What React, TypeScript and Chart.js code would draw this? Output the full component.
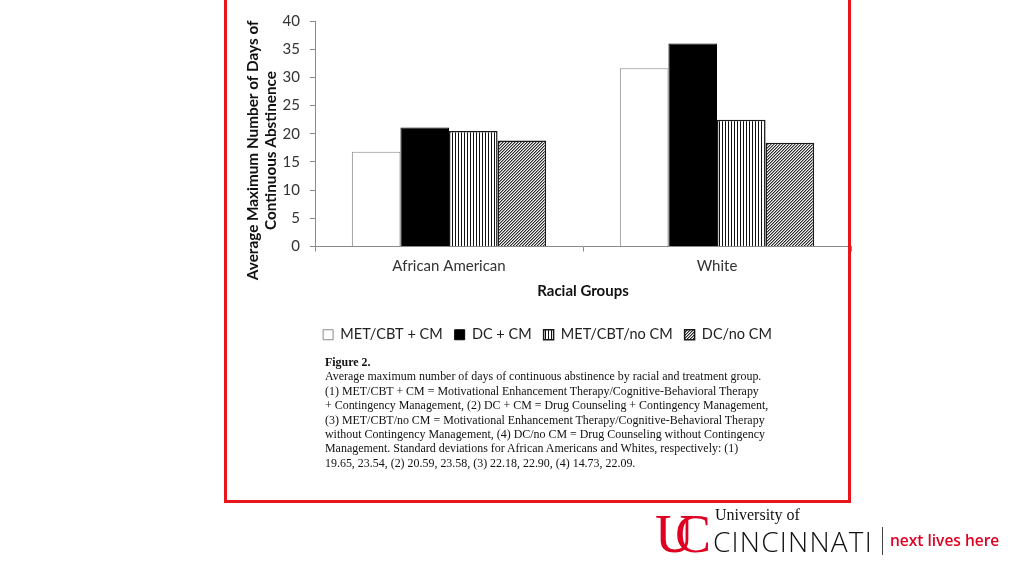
import React, { useEffect, useRef } from "react";
import { Chart, registerables } from "chart.js";

Chart.register(...registerables);

const categories = ["African American", "White"];
const seriesNames = ["MET/CBT + CM", "DC + CM", "MET/CBT/no CM", "DC/no CM"];
const metCbtCm = [16.8, 31.6];
const dcCm = [21.1, 36.0];
const metCbtNoCm = [20.5, 22.5];
const dcNoCm = [18.8, 18.4];
const yMin = 0;
const yMax = 40;
const yStep = 5;
const titlePad = "\u00A0".repeat(9);
const yTitle = ["Average Maximum Number of Days of" + titlePad, "Continuous Abstinence" + titlePad];
const xTitle = "Racial Groups";

const captionTitle = "Figure 2.";
const captionLines = [
  "Average maximum number of days of continuous abstinence by racial and treatment group.",
  "(1) MET/CBT + CM = Motivational Enhancement Therapy/Cognitive-Behavioral Therapy",
  "+ Contingency Management, (2) DC + CM = Drug Counseling + Contingency Management,",
  "(3) MET/CBT/no CM = Motivational Enhancement Therapy/Cognitive-Behavioral Therapy",
  "without Contingency Management, (4) DC/no CM = Drug Counseling without Contingency",
  "Management. Standard deviations for African Americans and Whites, respectively: (1)",
  "19.65, 23.54, (2) 20.59, 23.58, (3) 22.18, 22.90, (4) 14.73, 22.09.",
];

function stripePattern(ctx: CanvasRenderingContext2D) {
  const c = document.createElement("canvas");
  c.width = 3;
  c.height = 3;
  const g = c.getContext("2d")!;
  g.fillStyle = "#ffffff";
  g.fillRect(0, 0, 3, 3);
  g.fillStyle = "#111111";
  g.fillRect(0, 0, 1, 3);
  return ctx.createPattern(c, "repeat")!;
}

function hatchPattern(ctx: CanvasRenderingContext2D) {
  const c = document.createElement("canvas");
  c.width = 3;
  c.height = 3;
  const g = c.getContext("2d")!;
  for (let x = 0; x < 3; x++) {
    for (let y = 0; y < 3; y++) {
      const m = (x + y) % 3;
      g.fillStyle = m === 0 ? "#2a2a2a" : m === 1 ? "#9a9a9a" : "#f4f4f4";
      g.fillRect(x, y, 1, 1);
    }
  }
  return ctx.createPattern(c, "repeat")!;
}

function BarChart() {
  const ref = useRef<HTMLCanvasElement | null>(null);
  useEffect(() => {
    const canvas = ref.current!;
    const ctx = canvas.getContext("2d")!;
    const font = "Lato";
    const chart = new Chart(ctx, {
      type: "bar",
      data: {
        labels: categories,
        datasets: [
          {
            label: seriesNames[0],
            data: metCbtCm,
            backgroundColor: "#ffffff",
            borderColor: "#8a8a8a",
            borderWidth: 1,
          },
          {
            label: seriesNames[1],
            data: dcCm,
            backgroundColor: "#000000",
            borderColor: "#000000",
            borderWidth: 1,
          },
          {
            label: seriesNames[2],
            data: metCbtNoCm,
            backgroundColor: stripePattern(ctx),
            borderColor: "#1a1a1a",
            borderWidth: 1.5,
          },
          {
            label: seriesNames[3],
            data: dcNoCm,
            backgroundColor: hatchPattern(ctx),
            borderColor: "#1a1a1a",
            borderWidth: 1.5,
          },
        ],
      },
      options: {
        animation: false,
        responsive: false,
        maintainAspectRatio: false,
        datasets: {
          bar: { categoryPercentage: 0.725, barPercentage: 1 },
        },
        layout: { padding: { top: 21, right: 2, left: 14, bottom: 0 } },
        plugins: {
          tooltip: { enabled: false },
          legend: {
            position: "bottom",
            labels: {
              boxWidth: 10,
              boxHeight: 10,
              padding: 12,
              color: "#222222",
              font: { family: font, size: 14.5 },
            },
          },
        },
        scales: {
          x: {
            border: { color: "#8a8a8a", width: 1 },
            grid: {
              offset: true,
              drawOnChartArea: false,
              drawTicks: true,
              tickLength: 5,
              color: "#8a8a8a",
            },
            ticks: {
              color: "#333333",
              padding: 6,
              font: { family: font, size: 15 },
            },
            title: {
              display: true,
              text: xTitle,
              color: "#111111",
              font: { family: font, size: 15, weight: "bold" },
              padding: { top: 1, bottom: 15 },
            },
          },
          y: {
            min: yMin,
            max: yMax,
            border: { color: "#8a8a8a", width: 1 },
            grid: {
              drawOnChartArea: false,
              drawTicks: true,
              tickLength: 5,
              color: "#8a8a8a",
            },
            ticks: {
              stepSize: yStep,
              color: "#333333",
              padding: 10,
              font: { family: font, size: 15 },
            },
            title: {
              display: true,
              text: yTitle,
              color: "#111111",
              font: { family: font, size: 15.3, weight: "bold" },
              padding: { top: 0, bottom: 2 },
            },
            afterFit: (scale: any) => {
              scale.width = 71;
            },
          },
        },
      },
    });
    return () => chart.destroy();
  }, []);
  return (
    <canvas
      ref={ref}
      width={623}
      height={352}
      style={{ position: "absolute", left: 230, top: 0, width: 623, height: 352 }}
    />
  );
}

export default function App() {
  return (
    <div
      style={{
        position: "absolute",
        left: 0,
        top: 0,
        width: 1024,
        height: 576,
        overflow: "hidden",
        background: "#ffffff",
      }}
    >
      <BarChart />
      <div
        style={{
          position: "absolute",
          left: 224,
          top: -10,
          width: 621,
          height: 507,
          border: "3px solid #e8151b",
        }}
      />
      <div
        style={{
          position: "absolute",
          left: 325,
          top: 355,
          fontFamily: "'Liberation Serif', 'Times New Roman', serif",
          fontSize: 11.95,
          lineHeight: "14.4px",
          color: "#111111",
          whiteSpace: "nowrap",
        }}
      >
        <div style={{ fontWeight: "bold" }}>{captionTitle}</div>
        {captionLines.map((l, i) => (
          <div key={i}>{l}</div>
        ))}
      </div>
      <div
        style={{
          position: "absolute",
          left: 655,
          top: 500,
          height: 70,
          width: 60,
          color: "#e00122",
          fontFamily: "'Liberation Serif', serif",
          fontSize: 54,
          lineHeight: "60px",
        }}
      >
        <span style={{ position: "absolute", left: 0, top: 4 }}>U</span>
        <span style={{ position: "absolute", left: 20, top: 4 }}>C</span>
      </div>
      <div
        style={{
          position: "absolute",
          left: 715,
          top: 506,
          fontFamily: "'Liberation Serif', serif",
          fontSize: 16,
          color: "#111111",
          whiteSpace: "nowrap",
        }}
      >
        University of
      </div>
      <div
        style={{
          position: "absolute",
          left: 713,
          top: 521,
          fontFamily: "'Open Sans', sans-serif",
          fontWeight: 300,
          fontSize: 28,
          letterSpacing: 1.2,
          color: "#111111",
          whiteSpace: "nowrap",
          lineHeight: "40px",
        }}
      >
        CINCINNATI
      </div>
      <div
        style={{
          position: "absolute",
          left: 882,
          top: 527,
          width: 1,
          height: 28,
          background: "#444444",
        }}
      />
      <div
        style={{
          position: "absolute",
          left: 890,
          top: 529,
          fontFamily: "'Open Sans', sans-serif",
          fontWeight: 600,
          fontSize: 15.5,
          color: "#e00122",
          whiteSpace: "nowrap",
        }}
      >
        next lives here
      </div>
    </div>
  );
}
